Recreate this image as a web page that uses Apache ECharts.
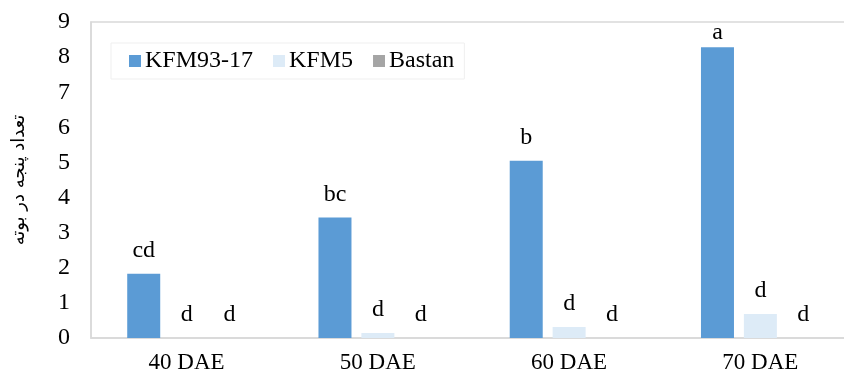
<!DOCTYPE html>
<html><head><meta charset="utf-8">
<script src="https://cdn.jsdelivr.net/npm/echarts@6/dist/echarts.min.js"></script>
<style>html,body{margin:0;padding:0;background:#fff}#c{width:844px;height:377px}</style>
</head><body><div id="c"></div>
<script>
const categories = ['40 DAE', '50 DAE', '60 DAE', '70 DAE'];
const seriesNames = ['KFM93-17', 'KFM5', 'Bastan'];
const kfm9317 = [1.83, 3.43, 5.05, 8.28];
const kfm5 = [0, 0.14, 0.31, 0.68];
const bastan = [0, 0, 0, 0];
const lettersKfm9317 = ['cd', 'bc', 'b', 'a'];
const lettersKfm5 = ['d', 'd', 'd', 'd'];
const lettersBastan = ['d', 'd', 'd', 'd'];
const yTicks = [0, 1, 2, 3, 4, 5, 6, 7, 8, 9];
const yTitle = 'تعداد پنجه در بوته';

const serif = '"Liberation Serif", "Times New Roman", serif';
const colors = ['#5B9BD5', '#DDEBF7', '#A5A5A5'];
const allData = [kfm9317, kfm5, bastan];
const allLetters = [lettersKfm9317, lettersKfm5, lettersBastan];
const yMax = yTicks[yTicks.length - 1];

const chart = echarts.init(document.getElementById('c'));
chart.setOption({
  animation: false,
  color: colors,
  grid: { left: 91, width: 765, top: 22, bottom: 39, outerBoundsMode: 'none', containLabel: false,
          show: true, borderColor: '#D9D9D9', borderWidth: 1.5 },
  legend: {
    left: 111, top: 43, padding: [6, 10, 6, 18],
    borderColor: '#EFEFEF', borderWidth: 1, itemWidth: 12, itemHeight: 12, itemGap: 20,
    icon: 'rect',
    textStyle: { fontFamily: serif, fontSize: 24, color: '#000', padding: [0, 0, 0, -1] },
    data: seriesNames
  },
  xAxis: {
    type: 'category', data: categories,
    axisLine: { lineStyle: { color: '#D9D9D9', width: 1.5 } },
    axisTick: { show: false },
    axisLabel: { fontFamily: serif, fontSize: 23, color: '#000', margin: 13 }
  },
  yAxis: {
    type: 'value', min: yTicks[0], max: yMax, interval: 1,
    name: yTitle, nameLocation: 'middle', nameRotate: 90, nameGap: 63,
    nameTextStyle: { fontFamily: '"DejaVu Sans", sans-serif', fontSize: 18, color: '#000' },
    axisLine: { show: true, lineStyle: { color: '#D9D9D9', width: 1.5 } },
    axisTick: { show: false },
    splitLine: { show: false },
    axisLabel: { fontFamily: serif, fontSize: 24, color: '#000', margin: 21 }
  },
  series: seriesNames.map((n, i) => ({
    name: n, type: 'bar', barWidth: 33, barGap: '30%',
    data: allData[i].map(v => v > yMax - 1 ? { value: v, label: { distance: 3 } } : v),
    label: {
      show: true, position: 'top', distance: 11,
      fontFamily: serif, fontSize: 24, color: '#000',
      formatter: p => allLetters[i][p.dataIndex]
    }
  }))
});
</script></body></html>
